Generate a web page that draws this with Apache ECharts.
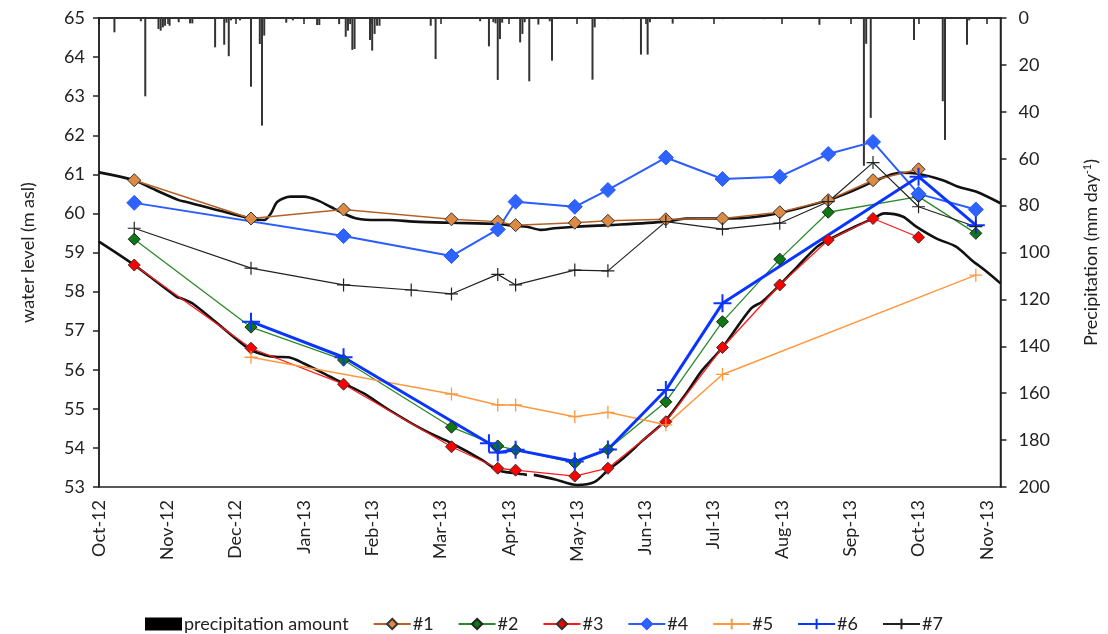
<!DOCTYPE html>
<html><head><meta charset="utf-8">
<script src="https://cdn.jsdelivr.net/npm/echarts@6/dist/echarts.min.js"></script>
<style>html,body{margin:0;padding:0;background:#fff;overflow:hidden;width:1108px;height:634px}#c{width:1108px;height:634px;position:absolute;left:0;top:0}</style>
</head><body><div id="c"></div>
<script>
// ---- DATA ----
const monthLabels = ['Oct-12','Nov-12','Dec-12','Jan-13','Feb-13','Mar-13','Apr-13','May-13','Jun-13','Jul-13','Aug-13','Sep-13','Oct-13','Nov-13'];
const waterTicks = [53,54,55,56,57,58,59,60,61,62,63,64,65];
const precipTicks = [0,20,40,60,80,100,120,140,160,180,200];

const sampleDates = ['2012-10-17','2012-12-08','2013-01-19','2013-02-17','2013-03-06','2013-03-23','2013-03-27','2013-04-04','2013-04-30','2013-05-15','2013-06-10','2013-07-05','2013-07-31','2013-08-22','2013-09-11','2013-10-01','2013-10-27'];
const well1 = [60.85,59.87,60.10,null,59.85,null,59.79,59.70,59.76,59.81,59.85,59.87,60.03,60.34,60.85,61.13,null];
const well2 = [59.34,57.09,56.25,null,54.53,null,54.05,53.95,53.62,53.96,55.18,57.23,58.83,60.03,null,60.43,59.49];
const well3 = [58.68,56.55,55.63,null,54.03,null,53.48,53.43,53.28,53.48,54.67,56.57,58.17,59.32,59.87,59.39,null];
const well4 = [60.27,null,59.42,null,58.91,null,59.59,60.30,60.17,60.60,61.43,60.88,60.94,61.52,61.83,60.50,60.10];
const well5 = [null,56.32,null,null,55.38,null,55.10,55.10,54.80,54.91,54.59,55.88,null,null,null,null,58.42];
const well6 = [null,57.23,56.32,null,null,54.12,53.88,53.95,53.65,53.96,55.48,57.70,null,null,null,60.94,59.70];
const well7 = [59.62,58.60,58.17,58.04,57.94,null,58.44,58.17,58.55,58.53,59.79,59.60,59.75,60.30,61.30,60.17,59.66];

const loggerUpperDates = ['2012-10-01','2012-10-17','2012-10-25','2012-11-06','2012-11-09','2012-12-08','2012-12-14','2012-12-17','2012-12-20','2012-12-26','2013-01-01','2013-01-07','2013-01-13','2013-01-19','2013-01-25','2013-02-03','2013-02-08','2013-02-18','2013-03-06','2013-03-27','2013-04-04','2013-04-09','2013-04-15','2013-04-21','2013-04-30','2013-05-15','2013-06-10','2013-06-19','2013-07-09','2013-07-30','2013-08-22','2013-09-01','2013-09-11','2013-09-23','2013-09-30','2013-10-12','2013-10-19','2013-10-27','2013-11-07'];
const loggerUpperValues = [61.05,60.85,60.64,60.34,60.30,59.87,59.83,60.00,60.30,60.43,60.43,60.34,60.17,60.00,59.87,59.83,59.83,59.79,59.76,59.73,59.68,59.66,59.58,59.62,59.66,59.70,59.79,59.87,59.87,60.00,60.34,60.55,60.81,61.04,61.02,60.85,60.68,60.56,60.26];

const loggerLowerDates = ['2012-10-01','2012-10-17','2012-11-05','2012-11-07','2012-11-12','2012-12-01','2012-12-08','2012-12-14','2012-12-19','2012-12-25','2013-01-01','2013-01-13','2013-01-19','2013-01-28','2013-02-08','2013-02-22','2013-03-06','2013-03-20','2013-03-27','2013-04-04','2013-04-09','2013-04-10','2013-04-12','2013-04-21','2013-05-01','2013-05-09','2013-05-15','2013-05-21','2013-05-31','2013-06-10','2013-06-19','2013-06-26','2013-07-05','2013-07-18','2013-07-23','2013-07-31','2013-08-08','2013-08-17','2013-08-22','2013-09-03','2013-09-11','2013-09-16','2013-09-24','2013-09-30','2013-10-09','2013-10-18','2013-10-25','2013-10-31','2013-11-07'];
const loggerLowerValues = [59.28,58.68,57.87,57.83,57.70,56.80,56.50,56.38,56.33,56.32,56.16,55.82,55.65,55.40,54.97,54.46,54.12,53.69,53.43,53.35,53.31,null,53.31,53.20,53.05,53.13,53.43,53.69,54.20,54.71,55.40,55.99,56.57,57.57,57.74,58.17,58.64,59.15,59.32,59.66,59.87,60.00,59.92,59.66,59.36,59.15,58.81,58.55,58.21];

const precipDates = ['2012-10-08','2012-10-20','2012-10-22','2012-10-28','2012-10-29','2012-10-30','2012-10-31','2012-11-02','2012-11-06','2012-11-09','2012-11-11','2012-11-12','2012-11-22','2012-11-26','2012-11-27','2012-11-28','2012-11-29','2012-12-03','2012-12-08','2012-12-12','2012-12-13','2012-12-14','2012-12-24','2012-12-27','2013-01-07','2013-01-08','2013-01-17','2013-01-20','2013-01-21','2013-01-22','2013-01-23','2013-01-24','2013-01-31','2013-02-01','2013-02-02','2013-02-03','2013-02-04','2013-02-25','2013-02-27','2013-03-19','2013-03-23','2013-03-25','2013-03-26','2013-03-27','2013-03-28','2013-03-29','2013-04-06','2013-04-07','2013-04-08','2013-04-10','2013-04-14','2013-04-19','2013-04-20','2013-05-08','2013-05-09','2013-05-15','2013-05-22','2013-05-30','2013-06-02','2013-06-03','2013-06-13','2013-06-26','2013-07-05','2013-07-24','2013-08-18','2013-09-07','2013-09-08','2013-09-10','2013-09-29','2013-10-12','2013-10-13','2013-10-23','2013-10-24'];
const precipValues = [6.1,1.4,33.4,4.7,5.4,4.0,3.3,3.3,1.8,0.5,2.3,2.3,12.5,11.4,2.0,16.3,1.0,1.0,29.3,11.1,45.9,7.5,2.0,1.0,3.0,3.0,2.6,8.0,5.4,2.6,13.6,13.2,9.4,13.9,6.8,3.3,3.3,3.3,17.5,1.4,12.1,1.8,2.3,26.4,9.0,2.0,10.4,6.8,1.8,27.0,2.8,1.4,18.2,26.3,4.0,0.5,0.5,15.6,15.6,1.8,2.4,0.5,0.5,0.5,2.9,63.0,11.0,42.6,9.4,35.5,52.0,11.4,1.0];

// ---- helpers ----
function pos(d){
  const p = d.split('-').map(Number);
  const dim = new Date(p[0], p[1], 0).getDate();
  return (p[0]-2012)*12 + (p[1]-10) + (p[2]-1)/dim;
}
function pairs(dates, vals){ return dates.map((d,i)=>[pos(d), vals[i]]); }

const FONT = 'Lato';
const TXT = '#222';
const plus = 'path://M5,0L5,10M0,5L10,5';

function diamondSeries(name, vals, lineColor, fill, size, lw, border){
  return {name, type:'line', data: pairs(sampleDates, vals), connectNulls:true,
    symbol:'diamond', symbolSize:size, lineStyle:{color:lineColor, width:lw},
    itemStyle:{color:fill, borderColor:border, borderWidth:1}, z:5};
}
function plusSeries(name, vals, color, size, lw, bw){
  return {name, type:'line', data: pairs(sampleDates, vals), connectNulls:true,
    symbol:plus, symbolSize:size, lineStyle:{color:color, width:lw},
    itemStyle:{color:'rgba(0,0,0,0)', borderColor:color, borderWidth:bw}, z:5};
}

const chart = echarts.init(document.getElementById('c'), null, {renderer:'canvas', width:1108, height:634});
chart.setOption({
  animation:false,
  backgroundColor:'#fff',
  textStyle:{fontFamily:FONT},
  grid:{left:99, right:96, top:18, bottom:147, show:true, borderColor:'#222', borderWidth:1.5, backgroundColor:'transparent'},
  legend:{
    left:140, top:610, itemWidth:37, itemHeight:13, itemGap:24,
    textStyle:{fontFamily:FONT, fontSize:18, color:TXT, padding:[0,0,0,-3]},
    data:[{name:'precipitation amount', icon:'rect', itemStyle:{color:'#000'}},'#1','#2','#3','#4','#5','#6','#7']
  },
  xAxis:{type:'value', min:0, max:pos('2013-11-07'), interval:1,
    axisLine:{show:true, lineStyle:{color:'#222', width:1.5}},
    axisTick:{show:true, inside:false, length:6, lineStyle:{color:'#222', width:1.5}},
    splitLine:{show:false},
    axisLabel:{rotate:90, margin:13, fontSize:18, color:TXT, fontFamily:FONT, showMaxLabel:false,
      formatter:v=>Number.isInteger(v) && monthLabels[v] ? monthLabels[v] : ''}
  },
  yAxis:[
    {type:'value', min:waterTicks[0], max:waterTicks[waterTicks.length-1], interval:1, position:'left',
     name:'water level (m asl)', nameLocation:'middle', nameGap:62, nameRotate:90,
     nameTextStyle:{fontSize:18, color:TXT, fontFamily:FONT},
     axisLine:{show:true, lineStyle:{color:'#222', width:1.5}},
     axisTick:{show:true, length:6, lineStyle:{color:'#222', width:1.5}},
     splitLine:{show:false},
     axisLabel:{fontSize:18, color:TXT, margin:14, fontFamily:FONT}},
    {type:'value', min:precipTicks[0], max:precipTicks[precipTicks.length-1], interval:20, position:'right', inverse:true,
     name:'Precipitation (mm day{sup|-1})', nameLocation:'middle', nameGap:81, nameRotate:90,
     nameTextStyle:{fontSize:18, color:TXT, fontFamily:FONT, rich:{sup:{fontSize:11, verticalAlign:'top', padding:[0,0,8,0], fontFamily:FONT, color:TXT}}},
     axisLine:{show:true, lineStyle:{color:'#222', width:1.5}},
     axisTick:{show:true, length:6, lineStyle:{color:'#222', width:1.5}},
     splitLine:{show:false},
     axisLabel:{fontSize:18, color:TXT, margin:18, fontFamily:FONT}}
  ],
  series:[
    {name:'precipitation amount', type:'custom', yAxisIndex:1, data:pairs(precipDates, precipValues),
     encode:{x:0, y:1}, itemStyle:{color:'#333'}, z:1,
     renderItem:function(params, api){
       const a = api.coord([api.value(0), 0]);
       const b = api.coord([api.value(0), api.value(1)]);
       return {type:'rect', shape:{x:a[0]-1, y:a[1], width:2, height:b[1]-a[1]}, style:{fill:'#333'}};
     }},
    {name:'logger upper', type:'line', data:pairs(loggerUpperDates, loggerUpperValues), smooth:0.3,
     showSymbol:false, lineStyle:{color:'#111', width:2.6}, z:3},
    {name:'logger lower', type:'line', data:pairs(loggerLowerDates, loggerLowerValues), smooth:0.3, connectNulls:false,
     showSymbol:false, lineStyle:{color:'#111', width:2.6}, z:3},
    diamondSeries('#1', well1, '#b5622a', '#dd8a45', 13, 1.5, '#333'),
    diamondSeries('#2', well2, '#2a8a2a', '#0b7a12', 12, 1.3, '#222'),
    diamondSeries('#3', well3, '#ff1a1a', '#ff0000', 12, 1.3, '#333'),
    diamondSeries('#4', well4, '#2a5cff', '#2f63ff', 15, 2, '#2a5cff'),
    plusSeries('#5', well5, '#ff9940', 13, 1.5, 1.3),
    plusSeries('#6', well6, '#0a35ff', 18, 3, 2),
    plusSeries('#7', well7, '#222222', 13, 1.2, 1.2)
  ]
});
</script></body></html>
